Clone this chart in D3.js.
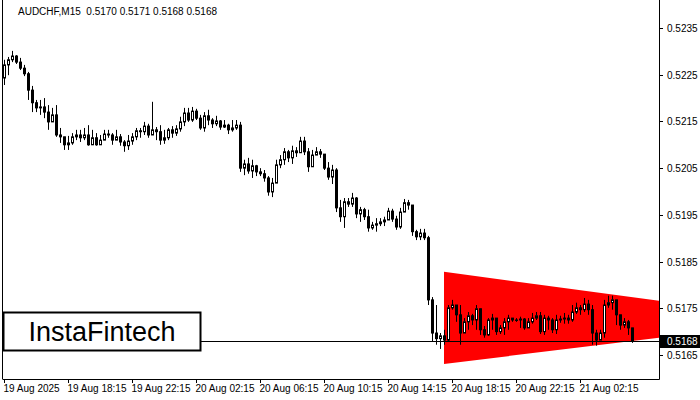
<!DOCTYPE html>
<html>
<head>
<meta charset="utf-8">
<script src="https://cdn.jsdelivr.net/npm/d3@7"></script>
<style>
  body { margin: 0; background: #fff; }
  svg { display: block; }
  text { font-family: "Liberation Sans", Arial, sans-serif; }
</style>
</head>
<body>
<svg id="chart" width="700" height="400"></svg>
<script>
// AUDCHF M15 candles
const firstOpen = 0.52243
const closes = [0.52271,0.52282,0.52290,0.52277,0.52264,0.52252,0.52217,0.52190,0.52179,0.52181,
  0.52170,0.52149,0.52164,0.52121,0.52117,0.52100,0.52104,0.52117,0.52121,0.52115,
  0.52121,0.52100,0.52115,0.52100,0.52110,0.52123,0.52121,0.52110,0.52117,0.52106,
  0.52098,0.52108,0.52117,0.52130,0.52128,0.52140,0.52121,0.52132,0.52128,0.52110,
  0.52115,0.52132,0.52125,0.52134,0.52149,0.52168,0.52153,0.52172,0.52157,0.52136,
  0.52162,0.52153,0.52145,0.52151,0.52138,0.52142,0.52132,0.52136,0.52142,0.52050,
  0.52059,0.52044,0.52055,0.52042,0.52038,0.52029,0.51999,0.52018,0.52057,0.52068,
  0.52085,0.52072,0.52087,0.52083,0.52108,0.52085,0.52053,0.52078,0.52085,0.52080,
  0.52050,0.52031,0.52046,0.51965,0.51946,0.51978,0.51973,0.51986,0.51952,0.51961,
  0.51946,0.51922,0.51928,0.51931,0.51935,0.51939,0.51958,0.51941,0.51924,0.51956,
  0.51976,0.51971,0.51914,0.51903,0.51911,0.51901,0.51768,0.51697,0.51685,0.51691,
  0.51682,0.51751,0.51757,0.51736,0.51697,0.51721,0.51734,0.51725,0.51749,0.51704,
  0.51693,0.51725,0.51729,0.51700,0.51708,0.51721,0.51729,0.51725,0.51725,0.51727,
  0.51708,0.51721,0.51729,0.51734,0.51700,0.51729,0.51725,0.51704,0.51725,0.51727,
  0.51729,0.51725,0.51742,0.51751,0.51747,0.51759,0.51747,0.51697,0.51682,0.51697,
  0.51757,0.51762,0.51768,0.51736,0.51714,0.51721,0.51708,0.51680]
const highs = [0.52282,0.52288,0.52301,0.52292,0.52286,0.52271,0.52256,0.52226,0.52196,0.52196,
  0.52200,0.52185,0.52179,0.52185,0.52136,0.52115,0.52119,0.52125,0.52132,0.52132,
  0.52136,0.52142,0.52132,0.52125,0.52121,0.52132,0.52132,0.52125,0.52132,0.52123,
  0.52110,0.52121,0.52125,0.52136,0.52136,0.52149,0.52145,0.52192,0.52138,0.52142,
  0.52132,0.52136,0.52140,0.52142,0.52160,0.52179,0.52179,0.52181,0.52177,0.52164,
  0.52170,0.52175,0.52157,0.52162,0.52153,0.52153,0.52145,0.52153,0.52153,0.52149,
  0.52068,0.52072,0.52068,0.52057,0.52050,0.52046,0.52033,0.52029,0.52068,0.52078,
  0.52093,0.52089,0.52098,0.52095,0.52117,0.52117,0.52093,0.52089,0.52095,0.52091,
  0.52076,0.52063,0.52057,0.52050,0.51982,0.51986,0.51986,0.51997,0.51988,0.51967,
  0.51965,0.51961,0.51935,0.51943,0.51943,0.51946,0.51965,0.51963,0.51948,0.51965,
  0.51984,0.51982,0.51971,0.51918,0.51920,0.51920,0.51905,0.51774,0.51757,0.51697,
  0.51704,0.51757,0.51768,0.51757,0.51757,0.51729,0.51742,0.51738,0.51757,0.51744,
  0.51712,0.51729,0.51738,0.51708,0.51714,0.51729,0.51736,0.51729,0.51729,0.51732,
  0.51729,0.51729,0.51740,0.51742,0.51742,0.51736,0.51734,0.51729,0.51736,0.51734,
  0.51740,0.51736,0.51757,0.51762,0.51757,0.51772,0.51768,0.51757,0.51704,0.51704,
  0.51768,0.51777,0.51777,0.51764,0.51729,0.51729,0.51725,0.51708]
const lows = [0.52228,0.52249,0.52277,0.52273,0.52260,0.52247,0.52196,0.52170,0.52170,0.52164,
  0.52157,0.52132,0.52153,0.52117,0.52104,0.52089,0.52089,0.52100,0.52110,0.52106,
  0.52110,0.52098,0.52100,0.52098,0.52100,0.52110,0.52115,0.52100,0.52110,0.52098,
  0.52085,0.52089,0.52100,0.52110,0.52115,0.52121,0.52115,0.52121,0.52110,0.52100,
  0.52102,0.52110,0.52115,0.52119,0.52128,0.52140,0.52149,0.52149,0.52153,0.52132,
  0.52128,0.52142,0.52136,0.52140,0.52132,0.52136,0.52123,0.52128,0.52132,0.52042,
  0.52035,0.52038,0.52029,0.52033,0.52033,0.52021,0.51991,0.51988,0.52025,0.52050,
  0.52057,0.52063,0.52059,0.52074,0.52085,0.52078,0.52042,0.52057,0.52078,0.52072,
  0.52046,0.52025,0.52016,0.51956,0.51935,0.51922,0.51967,0.51967,0.51943,0.51935,
  0.51939,0.51914,0.51918,0.51914,0.51926,0.51926,0.51948,0.51935,0.51918,0.51920,
  0.51967,0.51961,0.51905,0.51896,0.51896,0.51896,0.51757,0.51678,0.51672,0.51663,
  0.51672,0.51678,0.51747,0.51721,0.51672,0.51697,0.51704,0.51714,0.51704,0.51693,
  0.51687,0.51691,0.51704,0.51693,0.51695,0.51693,0.51704,0.51721,0.51721,0.51708,
  0.51704,0.51708,0.51717,0.51725,0.51695,0.51693,0.51704,0.51697,0.51695,0.51719,
  0.51717,0.51717,0.51721,0.51738,0.51736,0.51742,0.51736,0.51672,0.51670,0.51682,
  0.51687,0.51751,0.51747,0.51714,0.51704,0.51708,0.51693,0.51676]

const priceTicks = [0.5165, 0.5175, 0.5185, 0.5195, 0.5205, 0.5215, 0.5225, 0.5235]
const timeLabels = ["19 Aug 2025", "19 Aug 18:15", "19 Aug 22:15", "20 Aug 02:15", "20 Aug 06:15",
  "20 Aug 10:15", "20 Aug 14:15", "20 Aug 18:15", "20 Aug 22:15", "21 Aug 02:15"]
const currentPrice = 0.5168
// bearish symmetrical triangle: [bar index, upper, lower]
const triangle = [[110, 0.51828, 0.51631], [164, 0.51766, 0.51687]]
const title = "AUDCHF,M15  0.5170 0.5171 0.5168 0.5168"

const svg = d3.select('#chart')
const plotRight = 659, plotBottom = 379

const x = d3.scaleLinear().domain([0, 164]).range([4, 660])
const y = d3.scaleLinear().domain([0.5165, 0.5235]).range([355, 28])

svg.append('defs').append('clipPath').attr('id', 'plot')
    .append('rect').attr('x', 3).attr('y', 0).attr('width', plotRight - 3).attr('height', plotBottom)

let candles = closes.map((c, i) => {
    const o = i == 0 ? firstOpen : closes[i - 1]
    return { i: i, o: o, c: c, h: Math.max(highs[i], o, c), l: Math.min(lows[i], o, c) }
})

let plot = svg.append('g').attr('clip-path', 'url(#plot)')

// triangle
plot.append('path')
    .attr('d', 'M' + x(triangle[0][0]) + ',' + y(triangle[0][1]) +
        'L' + x(triangle[1][0]) + ',' + y(triangle[1][1]) +
        'L' + x(triangle[1][0]) + ',' + y(triangle[1][2]) +
        'L' + x(triangle[0][0]) + ',' + y(triangle[0][2]) + 'Z')
    .attr('fill', '#ff0000')

// current price line
plot.append('line')
    .attr('x1', 3).attr('x2', plotRight)
    .attr('y1', Math.round(y(currentPrice)) + 0.5).attr('y2', Math.round(y(currentPrice)) + 0.5)
    .attr('stroke', '#000').attr('stroke-width', 1)

let bars = plot.selectAll('g.candle').data(candles).enter().append('g').attr('class', 'candle')
bars.append('line')
    .attr('x1', d => Math.round(x(d.i)) + 0.5).attr('x2', d => Math.round(x(d.i)) + 0.5)
    .attr('y1', d => y(d.h)).attr('y2', d => y(d.l))
    .attr('stroke', '#000')
bars.append('rect')
    .attr('x', d => Math.round(x(d.i)) - 1 + 0.5)
    .attr('y', d => y(Math.max(d.o, d.c)))
    .attr('width', 2)
    .attr('height', d => Math.max(0.5, Math.abs(y(d.o) - y(d.c))))
    .attr('fill', d => d.c >= d.o ? '#fff' : '#000')
    .attr('stroke', '#000').attr('stroke-width', 1)

// frame
svg.append('line').attr('x1', 2.5).attr('x2', 2.5).attr('y1', 0).attr('y2', plotBottom).attr('stroke', '#000')
svg.append('line').attr('x1', plotRight + 0.5).attr('x2', plotRight + 0.5).attr('y1', 0).attr('y2', plotBottom + 0.5).attr('stroke', '#000')
svg.append('line').attr('x1', 2.5).attr('x2', plotRight + 0.5).attr('y1', plotBottom + 0.5).attr('y2', plotBottom + 0.5).attr('stroke', '#000')

// price axis
let yAxis = svg.append('g')
priceTicks.forEach(p => {
    const yy = Math.round(y(p)) + 0.5
    yAxis.append('line').attr('x1', plotRight).attr('x2', plotRight + 4).attr('y1', yy).attr('y2', yy).attr('stroke', '#000')
    yAxis.append('text').attr('x', 667).attr('y', yy + 3.5).attr('font-size', 10).text(p.toFixed(4))
})
const cy = Math.round(y(currentPrice))
svg.append('rect').attr('x', plotRight + 1).attr('y', cy - 6).attr('width', 40).attr('height', 13).attr('fill', '#000')
svg.append('text').attr('x', 667).attr('y', cy + 4).attr('font-size', 10).attr('fill', '#fff').text(currentPrice.toFixed(4))

// time axis
timeLabels.forEach((t, k) => {
    const xx = Math.round(x(k * 16)) + 0.5
    svg.append('line').attr('x1', xx).attr('x2', xx).attr('y1', plotBottom).attr('y2', plotBottom + 4).attr('stroke', '#000')
    svg.append('text').attr('x', xx - 1).attr('y', 392).attr('font-size', 10).text(t)
})

svg.append('text').attr('x', 18).attr('y', 15).attr('font-size', 10).attr('xml:space', 'preserve').text(title)

// logo
svg.append('rect').attr('x', 3.5).attr('y', 312.5).attr('width', 197).attr('height', 38)
    .attr('fill', '#fff').attr('stroke', '#000').attr('stroke-width', 2)
svg.append('text').attr('x', 102).attr('y', 341).attr('text-anchor', 'middle')
    .attr('font-family', 'Roboto, "Open Sans", sans-serif').attr('font-size', 27).attr('fill', '#000')
    .text('InstaFintech')
</script>
</body>
</html>
